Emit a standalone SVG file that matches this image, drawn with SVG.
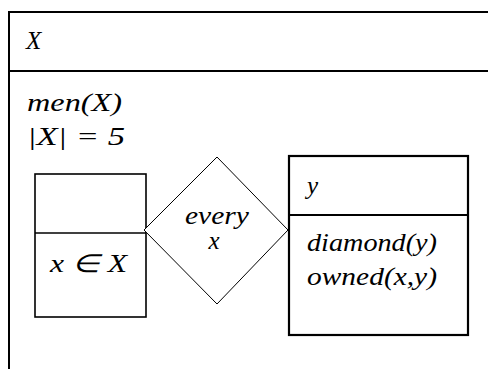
<svg xmlns="http://www.w3.org/2000/svg" width="488" height="369" viewBox="0 0 488 369">
<defs>
<style>
.l{stroke:#000;stroke-width:2;fill:none}
</style>
</defs>
<rect width="488" height="369" fill="#fff"/>
<g id="frame">
<path class="l" d="M9,369 V12 H490 M9,71 H490"/>
<text x="26" y="49" font-family="Liberation Serif" font-style="italic" font-size="25">X</text>
<text x="27" y="111" font-family="Liberation Serif" font-style="italic" font-size="25" textLength="95" lengthAdjust="spacingAndGlyphs">men(X)</text>
<text x="27" y="145" font-family="Liberation Serif" font-style="italic" font-size="25" textLength="98" lengthAdjust="spacingAndGlyphs">|X| = 5</text>
</g>
<g id="connectors"/>
<g id="leftbox">
<rect x="35" y="174" width="111" height="143" fill="#fff" stroke="#000" stroke-width="1.6"/>
<line x1="35" y1="233" x2="146" y2="233" stroke="#000" stroke-width="1.6"/>
<text x="50" y="272" font-family="Liberation Serif" font-style="italic" font-size="25" textLength="77" lengthAdjust="spacingAndGlyphs">x ∈ X</text>
</g>
<g id="diamond">
<polygon points="217,157 288,230 217,304 144,230" fill="#fff" stroke="#000" stroke-width="1"/>
<text x="217" y="224" font-family="Liberation Serif" font-style="italic" font-size="25" text-anchor="middle" textLength="64" lengthAdjust="spacingAndGlyphs">every</text>
<text x="214" y="249" font-family="Liberation Serif" font-style="italic" font-size="25" text-anchor="middle">x</text>
</g>
<g id="rightbox">
<rect x="289" y="156" width="179" height="179" fill="#fff" stroke="#000" stroke-width="2.2"/>
<line x1="289" y1="215" x2="468" y2="215" stroke="#000" stroke-width="2.2"/>
<text x="307" y="194" font-family="Liberation Serif" font-style="italic" font-size="25">y</text>
<text x="307" y="251" font-family="Liberation Serif" font-style="italic" font-size="25" textLength="130" lengthAdjust="spacingAndGlyphs">diamond(y)</text>
<text x="307" y="285" font-family="Liberation Serif" font-style="italic" font-size="25" textLength="130" lengthAdjust="spacingAndGlyphs">owned(x,y)</text>
</g>
</svg>
